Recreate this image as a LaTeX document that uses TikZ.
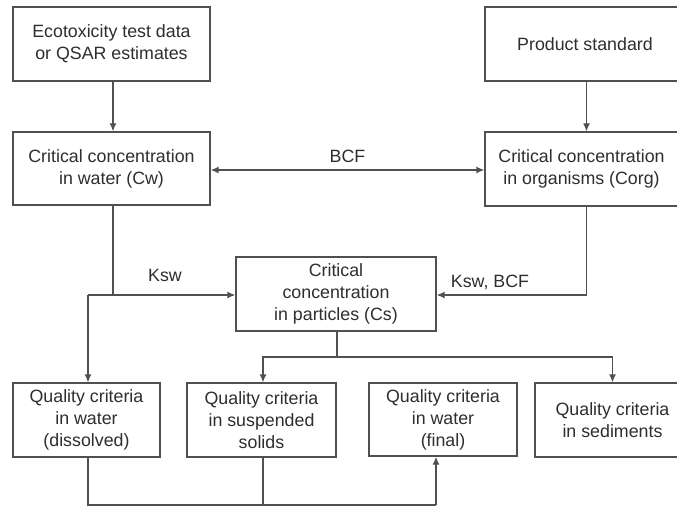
\documentclass[tikz,border=0pt]{standalone}
\usepackage{fontspec}
\setmainfont{Liberation Sans}
\usetikzlibrary{arrows.meta}
\definecolor{ln}{HTML}{505050}
\definecolor{tx}{HTML}{2E2E2E}
\tikzset{
  box/.style={draw=ln, line width=1.3pt, align=center, text=tx, font=\fontsize{17.8}{22}\selectfont, inner sep=0pt},
  conn/.style={draw=ln, line width=1.3pt},
  arr/.style={conn, -{Latex[length=8pt,width=7pt]}},
  lbl/.style={text=tx, font=\fontsize{17.8}{22}\selectfont, inner sep=0pt}
}
\begin{document}
\begin{tikzpicture}[x=1pt,y=-1pt]
\clip (0,0) rectangle (677,508);
\fill[white] (0,0) rectangle (677,508);
\node[box, minimum width=197pt, minimum height=74pt] (eco) at (111.5,44) {Ecotoxicity test data\\or QSAR estimates};
\node[box, minimum width=197pt, minimum height=73pt] (cw) at (111.5,168.5) {Critical concentration\\in water (Cw)};
\node[box, minimum width=203pt, minimum height=74pt] (prod) at (586.5,44) {\hspace*{-3pt}Product standard};
\node[box, minimum width=203pt, minimum height=74pt] (corg) at (586.5,169) {Critical concentration\hspace*{10pt}\\in organisms (Corg)\hspace*{10pt}};
\node[box, minimum width=200pt, minimum height=74pt] (cs) at (336,294) {Critical\\concentration\\in particles (Cs)};
\node[box, minimum width=147pt, minimum height=74pt] (qd) at (86.5,420) {Quality criteria\\in water\\(dissolved)};
\node[box, minimum width=149pt, minimum height=74pt] (qs) at (261.5,420) {Quality criteria\\in suspended\\solids};
\node[box, minimum width=148pt, minimum height=73pt] (qf) at (443,419.5) {Quality criteria\\in water\\(final)};
\node[box, minimum width=155pt, minimum height=74pt] (qsed) at (612.5,420) {Quality criteria\\in sediments};

\draw[arr] (eco.south -| 113,0) -- (cw.north -| 113,0);
\draw[arr] (prod.south) -- (corg.north);
\draw[conn, {Latex[length=8pt,width=7pt]}-{Latex[length=8pt,width=7pt]}] (cw.east |- 0,170) -- node[lbl, above=7pt] {BCF} (corg.west |- 0,170);

\coordinate (jw) at (113,295);
\coordinate (jl) at (88,295);
\draw[conn] (cw.south -| jw) -- (jw);
\draw[arr] (jl) -- (cs.west |- jl);
\draw[arr] (jl) -- (qd.north -| jl);
\node[lbl] (ksw) at (165,275) {Ksw};

\draw[arr] (corg.south) |- (cs.east |- jl);
\node[lbl] (kswbcf) at (490,282) {Ksw, BCF};

\coordinate (sp) at (337,357);
\coordinate (ss) at (263,357);
\draw[conn] (cs.south -| sp) -- (sp);
\draw[arr] (sp) -- (ss) -- (qs.north -| ss);
\draw[arr] (sp) -| (qsed.north);

\coordinate (bl) at (88,505);
\coordinate (bs) at (263,505);
\coordinate (bf) at (436,505);
\draw[conn] (qd.south -| bl) -- (bl) -- (bf);
\draw[conn] (qs.south -| bs) -- (bs);
\draw[arr] (bf) -- (qf.south -| bf);
\end{tikzpicture}
\end{document}
